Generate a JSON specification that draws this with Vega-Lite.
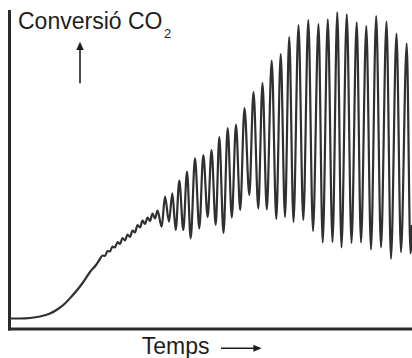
{
  "$schema": "https://vega.github.io/schema/vega-lite/v6.json",
  "autosize": {"type": "none"},
  "padding": {"left": 9, "top": 11, "right": 0, "bottom": 29.5},
  "width": 403,
  "height": 317.5,
  "background": "white",
  "config": {
    "view": {"stroke": null},
    "axis": {"labels": false, "ticks": false, "grid": false, "domainColor": "#2a2a2a", "domainWidth": 3, "domainCap": "square"}
  },
  "datasets": {
    "curve": [
      {"t": 1, "c": 10}, {"t": 11, "c": 10}, {"t": 21, "c": 10.5}, {"t": 31, "c": 12}, {"t": 41, "c": 15},
      {"t": 49, "c": 19.5}, {"t": 56, "c": 25}, {"t": 63, "c": 32.5}, {"t": 69, "c": 39.5}, {"t": 75, "c": 47.5},
      {"t": 81, "c": 56.5}, {"t": 87, "c": 63.5}, {"t": 91, "c": 69.5},
      {"t": 93.5, "c": 73}, {"t": 96, "c": 72.5}, {"t": 98.5, "c": 77.5}, {"t": 101, "c": 77}, {"t": 103.5, "c": 82},
      {"t": 106, "c": 81}, {"t": 108.5, "c": 86.5}, {"t": 111, "c": 84.5}, {"t": 113.5, "c": 90.5}, {"t": 116, "c": 88},
      {"t": 118.5, "c": 94}, {"t": 121, "c": 91.5}, {"t": 123.5, "c": 98}, {"t": 126, "c": 96}, {"t": 128.5, "c": 103.5},
      {"t": 131, "c": 101}, {"t": 133.5, "c": 108}, {"t": 136, "c": 104.5}, {"t": 138.5, "c": 111}, {"t": 141, "c": 107.5},
      {"t": 143.5, "c": 115}, {"t": 146, "c": 110}, {"t": 148.5, "c": 118},
      {"t": 152.7, "c": 101.8}, {"t": 156, "c": 131.8}, {"t": 160, "c": 106.8}, {"t": 163.3, "c": 135.2},
      {"t": 166.7, "c": 98.5}, {"t": 170.3, "c": 147.8}, {"t": 174.3, "c": 98.5}, {"t": 178, "c": 156.8},
      {"t": 181.7, "c": 90.2}, {"t": 186, "c": 170.2}, {"t": 190.3, "c": 100.2}, {"t": 194.3, "c": 173.5},
      {"t": 198.7, "c": 111.5}, {"t": 202.5, "c": 178.5}, {"t": 206.7, "c": 103.5}, {"t": 210.3, "c": 191.5},
      {"t": 214.5, "c": 95.5}, {"t": 218.7, "c": 200.5}, {"t": 222.8, "c": 111}, {"t": 227, "c": 204},
      {"t": 231.2, "c": 118.5}, {"t": 235.5, "c": 220.5}, {"t": 240.3, "c": 133.5}, {"t": 244.5, "c": 236.5},
      {"t": 249.3, "c": 120}, {"t": 253.5, "c": 245.5}, {"t": 257.8, "c": 119}, {"t": 262.7, "c": 268},
      {"t": 267.3, "c": 109.5}, {"t": 271.7, "c": 274.5}, {"t": 276, "c": 111.5}, {"t": 280.2, "c": 291.5},
      {"t": 284.5, "c": 106.5}, {"t": 289.5, "c": 303.5}, {"t": 294.3, "c": 108.5}, {"t": 299.3, "c": 308.5},
      {"t": 304, "c": 97.5}, {"t": 309.5, "c": 304.5}, {"t": 313.7, "c": 86}, {"t": 318.8, "c": 309.2},
      {"t": 323.5, "c": 86.5}, {"t": 328.3, "c": 316.2}, {"t": 332.5, "c": 81}, {"t": 337.8, "c": 314.2},
      {"t": 342.5, "c": 85.5}, {"t": 347.7, "c": 306.2}, {"t": 352, "c": 86}, {"t": 357.3, "c": 302.5},
      {"t": 362, "c": 79}, {"t": 367.2, "c": 312.5}, {"t": 372, "c": 81}, {"t": 377.5, "c": 306.8},
      {"t": 382, "c": 69.7}, {"t": 387.5, "c": 295}, {"t": 392, "c": 76.3}, {"t": 397.7, "c": 285},
      {"t": 401.5, "c": 75.2}, {"t": 403, "c": 103.5}
    ],
    "labels": [
      {"t": 9, "c": 299.2, "label": "Conversió CO", "size": 23},
      {"t": 155, "c": 290.5, "label": "2", "size": 13},
      {"t": 132.7, "c": -25, "label": "Temps", "size": 23}
    ],
    "shafts": [
      {"t": 212, "t2": 246, "c": -19.8, "c2": -19.8},
      {"t": 71, "t2": 71, "c": 245.2, "c2": 279}
    ],
    "headRight": [{"t": 248.5, "c": -19.8}],
    "headUp": [{"t": 71, "c": 282.6}]
  },
  "layer": [
    {
      "data": {"name": "curve"},
      "mark": {"type": "line", "interpolate": "monotone", "stroke": "#303030", "strokeWidth": 2.2},
      "encoding": {
        "x": {"field": "t", "type": "quantitative", "title": null, "scale": {"domain": [0, 403], "nice": false, "zero": false}},
        "y": {"field": "c", "type": "quantitative", "title": null, "scale": {"domain": [0, 317.5], "nice": false, "zero": false}}
      }
    },
    {
      "data": {"name": "labels"},
      "mark": {"type": "text", "align": "left", "baseline": "alphabetic", "font": "Liberation Sans", "fill": "#1e1e1e"},
      "encoding": {
        "x": {"field": "t", "type": "quantitative", "title": null},
        "y": {"field": "c", "type": "quantitative", "title": null},
        "text": {"field": "label"},
        "size": {"field": "size", "type": "quantitative", "scale": null}
      }
    },
    {
      "data": {"name": "shafts"},
      "mark": {"type": "rule", "stroke": "#1e1e1e", "strokeWidth": 1.6},
      "encoding": {
        "x": {"field": "t", "type": "quantitative", "title": null},
        "x2": {"field": "t2"},
        "y": {"field": "c", "type": "quantitative", "title": null},
        "y2": {"field": "c2"}
      }
    },
    {
      "data": {"name": "headRight"},
      "mark": {"type": "point", "shape": "M-1,-0.85L1,0L-1,0.85Z", "size": 69, "filled": true, "fill": "#1e1e1e", "opacity": 1, "strokeWidth": 0},
      "encoding": {
        "x": {"field": "t", "type": "quantitative", "title": null},
        "y": {"field": "c", "type": "quantitative", "title": null}
      }
    },
    {
      "data": {"name": "headUp"},
      "mark": {"type": "point", "shape": "M-0.9,1L0,-1L0.9,1Z", "size": 69, "filled": true, "fill": "#1e1e1e", "opacity": 1, "strokeWidth": 0},
      "encoding": {
        "x": {"field": "t", "type": "quantitative", "title": null},
        "y": {"field": "c", "type": "quantitative", "title": null}
      }
    }
  ]
}
